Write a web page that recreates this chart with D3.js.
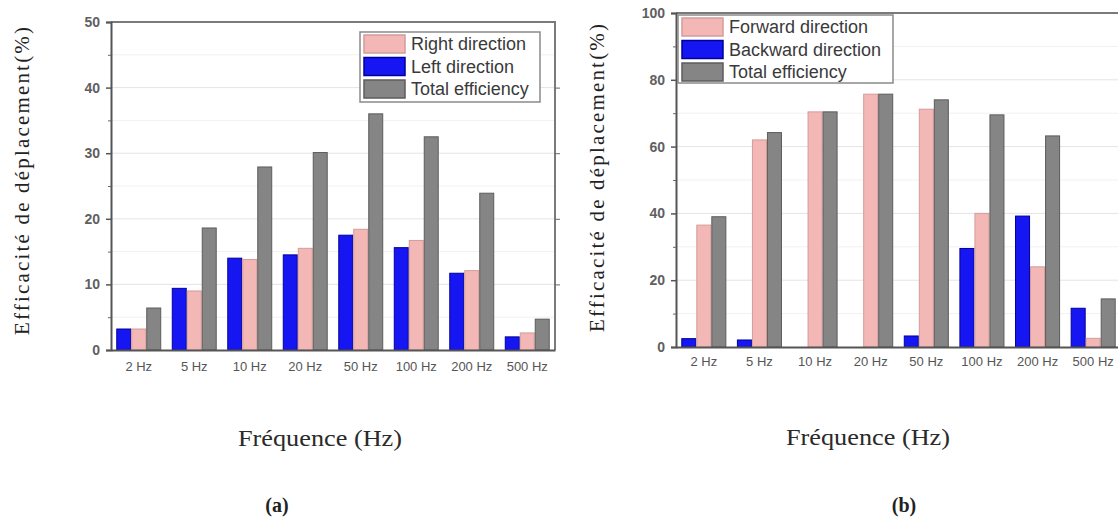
<!DOCTYPE html>
<html><head><meta charset="utf-8">
<script src="https://cdn.jsdelivr.net/npm/d3@7"></script>
<style>html,body{margin:0;padding:0;background:#fff;}svg{display:block;}</style>
</head><body>
<script>
// ---------- DATA ----------
const categories = ["2 Hz","5 Hz","10 Hz","20 Hz","50 Hz","100 Hz","200 Hz","500 Hz"];

// Panel (a)
const aLeft  = [3.2, 9.4, 14.0, 14.5, 17.5, 15.6, 11.7, 2.0];
const aRight = [3.2, 9.0, 13.8, 15.5, 18.4, 16.7, 12.1, 2.6];
const aTotal = [6.4, 18.6, 27.9, 30.1, 36.0, 32.5, 23.9, 4.7];
const aYTicks = [0, 10, 20, 30, 40, 50];
const aLegend = ["Right direction", "Left direction", "Total efficiency"];

// Panel (b)
const bBackward = [2.5, 2.1, 0, 0, 3.3, 29.5, 39.2, 11.6];
const bForward  = [36.5, 62.0, 70.4, 75.7, 71.2, 40.0, 24.0, 2.6];
const bTotal    = [39.0, 64.2, 70.4, 75.7, 74.0, 69.5, 63.2, 14.4];
const bYTicks = [0, 20, 40, 60, 80, 100];
const bLegend = ["Forward direction", "Backward direction", "Total efficiency"];

const yTitle = "Efficacité de déplacement(%)";
const xTitle = "Fréquence (Hz)";

// ---------- STYLE ----------
const C = {
  blue:{fill:"#1616f2", stroke:"#00009a"},
  pink:{fill:"#f3b7b5", stroke:"#d49c9a"},
  gray:{fill:"#858585", stroke:"#5c5c5c"}
};

const W = 1118, H = 529;
const svg = d3.select("body").append("svg").attr("width", W).attr("height", H)
  .style("font-family", "'Liberation Sans', Arial, sans-serif");
svg.append("rect").attr("width", W).attr("height", H).attr("fill", "#fff");

function panel(o) {
  const g = svg.append("g");
  const x = d3.scaleBand().domain(categories).range([o.x0, o.x1]).paddingInner(0.19).paddingOuter(0.095);
  const y = d3.scaleLinear().domain([0, o.ymax]).range([o.y0, o.y1]);
  const keys = o.series.map(s => s.key);
  const xi = d3.scaleBand().domain(keys).range([0, x.bandwidth()]);

  // grid lines
  const minor = d3.range(o.minorStep, o.ymax, o.minorStep*2);
  g.selectAll(".gmin").data(minor).join("line")
    .attr("x1", o.x0).attr("x2", o.x1).attr("y1", d => y(d)).attr("y2", d => y(d))
    .attr("stroke", "#f1f1f1").attr("stroke-width", 1);
  g.selectAll(".gmaj").data(o.ticks.filter(t => t > 0 && t < o.ymax)).join("line")
    .attr("x1", o.x0).attr("x2", o.x1).attr("y1", d => y(d)).attr("y2", d => y(d))
    .attr("stroke", "#e4e4e4").attr("stroke-width", 1);

  // bars
  o.series.forEach(s => {
    g.append("g").selectAll("rect").data(s.values).join("rect")
      .attr("x", (d, i) => x(categories[i]) + xi(s.key) + 0.5)
      .attr("width", xi.bandwidth() - 1)
      .attr("y", d => y(d))
      .attr("height", d => Math.max(0, y(0) - y(d)))
      .attr("fill", s.color.fill)
      .attr("stroke", d => d > 0 ? s.color.stroke : "none")
      .attr("stroke-width", 1);
  });

  // frame: top & right
  g.append("line").attr("x1", o.x0).attr("x2", o.x1 + 1).attr("y1", o.y1).attr("y2", o.y1)
    .attr("stroke", "#7a7a7a").attr("stroke-width", 2);
  g.append("line").attr("x1", o.x1).attr("x2", o.x1).attr("y1", o.y1).attr("y2", o.y0)
    .attr("stroke", "#7a7a7a").attr("stroke-width", 2);

  // left axis
  const axL = d3.axisLeft(y).tickValues(o.ticks).tickSize(5).tickPadding(6).tickFormat(d3.format("d"));
  const gl = g.append("g").attr("transform", `translate(${o.x0},0)`).call(axL);
  gl.select(".domain").attr("stroke", "#555").attr("stroke-width", 2);
  gl.selectAll(".tick line").attr("stroke", "#555").attr("stroke-width", 1.5);
  gl.selectAll(".tick text").attr("font-size", 14).attr("fill", "#444").attr("font-weight", "bold").attr("opacity", 0.85);
  const gm = g.append("g").attr("transform", `translate(${o.x0},0)`)
    .call(d3.axisLeft(y).tickValues(minor).tickSize(3).tickFormat(""));
  gm.select(".domain").remove();
  gm.selectAll(".tick line").attr("stroke", "#666");

  // right axis inward ticks
  const gr = g.append("g").attr("transform", `translate(${o.x1},0)`)
    .call(d3.axisLeft(y).tickValues(o.ticks.filter(t => t > 0 && t < o.ymax)).tickSize(-5).tickFormat(""));
  gr.select(".domain").remove();
  gr.selectAll(".tick line").attr("stroke", "#666");

  // bottom axis
  const axB = d3.axisBottom(x).tickSize(0).tickPadding(o.xPad);
  const gb = g.append("g").attr("transform", `translate(0,${o.y0})`).call(axB);
  gb.select(".domain").attr("stroke", "#555").attr("stroke-width", 2);
  gb.selectAll(".tick text").attr("font-size", 13).attr("fill", "#555");

  // legend
  const lg = g.append("g");
  lg.append("rect").attr("x", o.lx).attr("y", o.ly).attr("width", o.lw).attr("height", o.lh)
    .attr("fill", "#fff").attr("stroke", "#8a8a8a").attr("stroke-width", 1.5);
  o.legend.forEach((lab, i) => {
    const col = o.legendColors[i];
    const cy = o.ly + o.lrow0 + i * o.lstep;
    lg.append("rect").attr("x", o.lx + 4).attr("y", cy - 9).attr("width", 41).attr("height", 18)
      .attr("fill", col.fill).attr("stroke", col.stroke).attr("stroke-width", 1.5);
    lg.append("text").attr("x", o.lx + 51).attr("y", cy + 6).attr("font-size", 18)
      .attr("fill", "#3a3a3a").text(lab);
  });

  // titles
  svg.append("text").attr("transform", `translate(${o.ytx},${o.yty}) rotate(-90)`)
    .attr("text-anchor", "middle").attr("font-family", "'Liberation Serif', 'Times New Roman', serif")
    .attr("font-size", 21).attr("fill", "#222").attr("textLength", 308).attr("lengthAdjust", "spacing")
    .text(yTitle);
  svg.append("text").attr("x", o.xtx).attr("y", o.xty).attr("text-anchor", "middle")
    .attr("font-family", "'Liberation Serif', 'Times New Roman', serif")
    .attr("font-size", 24).attr("fill", "#2a2a2a").attr("textLength", 164).attr("lengthAdjust", "spacingAndGlyphs")
    .text(xTitle);
  svg.append("text").attr("x", o.ptx).attr("y", o.pty).attr("text-anchor", "middle")
    .attr("font-family", "'Liberation Serif', 'Times New Roman', serif")
    .attr("font-size", 20).attr("font-weight", "bold").attr("fill", "#222").text(o.tag);
}

panel({
  x0: 111, x1: 555, y0: 350, y1: 22, ymax: 50, ticks: aYTicks, minorStep: 5, xPad: 12,
  series: [
    {key: "left", values: aLeft, color: C.blue},
    {key: "right", values: aRight, color: C.pink},
    {key: "total", values: aTotal, color: C.gray}
  ],
  legend: aLegend, legendColors: [C.pink, C.blue, C.gray],
  lx: 360, ly: 32, lw: 180, lh: 70, lrow0: 12, lstep: 22.5,
  ytx: 29, yty: 181, xtx: 320, xty: 446, ptx: 277, pty: 512, tag: "(a)"
});

panel({
  x0: 676, x1: 1121, y0: 347, y1: 13, ymax: 100, ticks: bYTicks, minorStep: 10, xPad: 10,
  series: [
    {key: "back", values: bBackward, color: C.blue},
    {key: "fwd", values: bForward, color: C.pink},
    {key: "total", values: bTotal, color: C.gray}
  ],
  legend: bLegend, legendColors: [C.pink, C.blue, C.gray],
  lx: 678, ly: 15, lw: 215, lh: 68, lrow0: 12, lstep: 22.5,
  ytx: 604, yty: 178, xtx: 868, xty: 445, ptx: 904, pty: 512, tag: "(b)"
});
</script>
</body></html>
